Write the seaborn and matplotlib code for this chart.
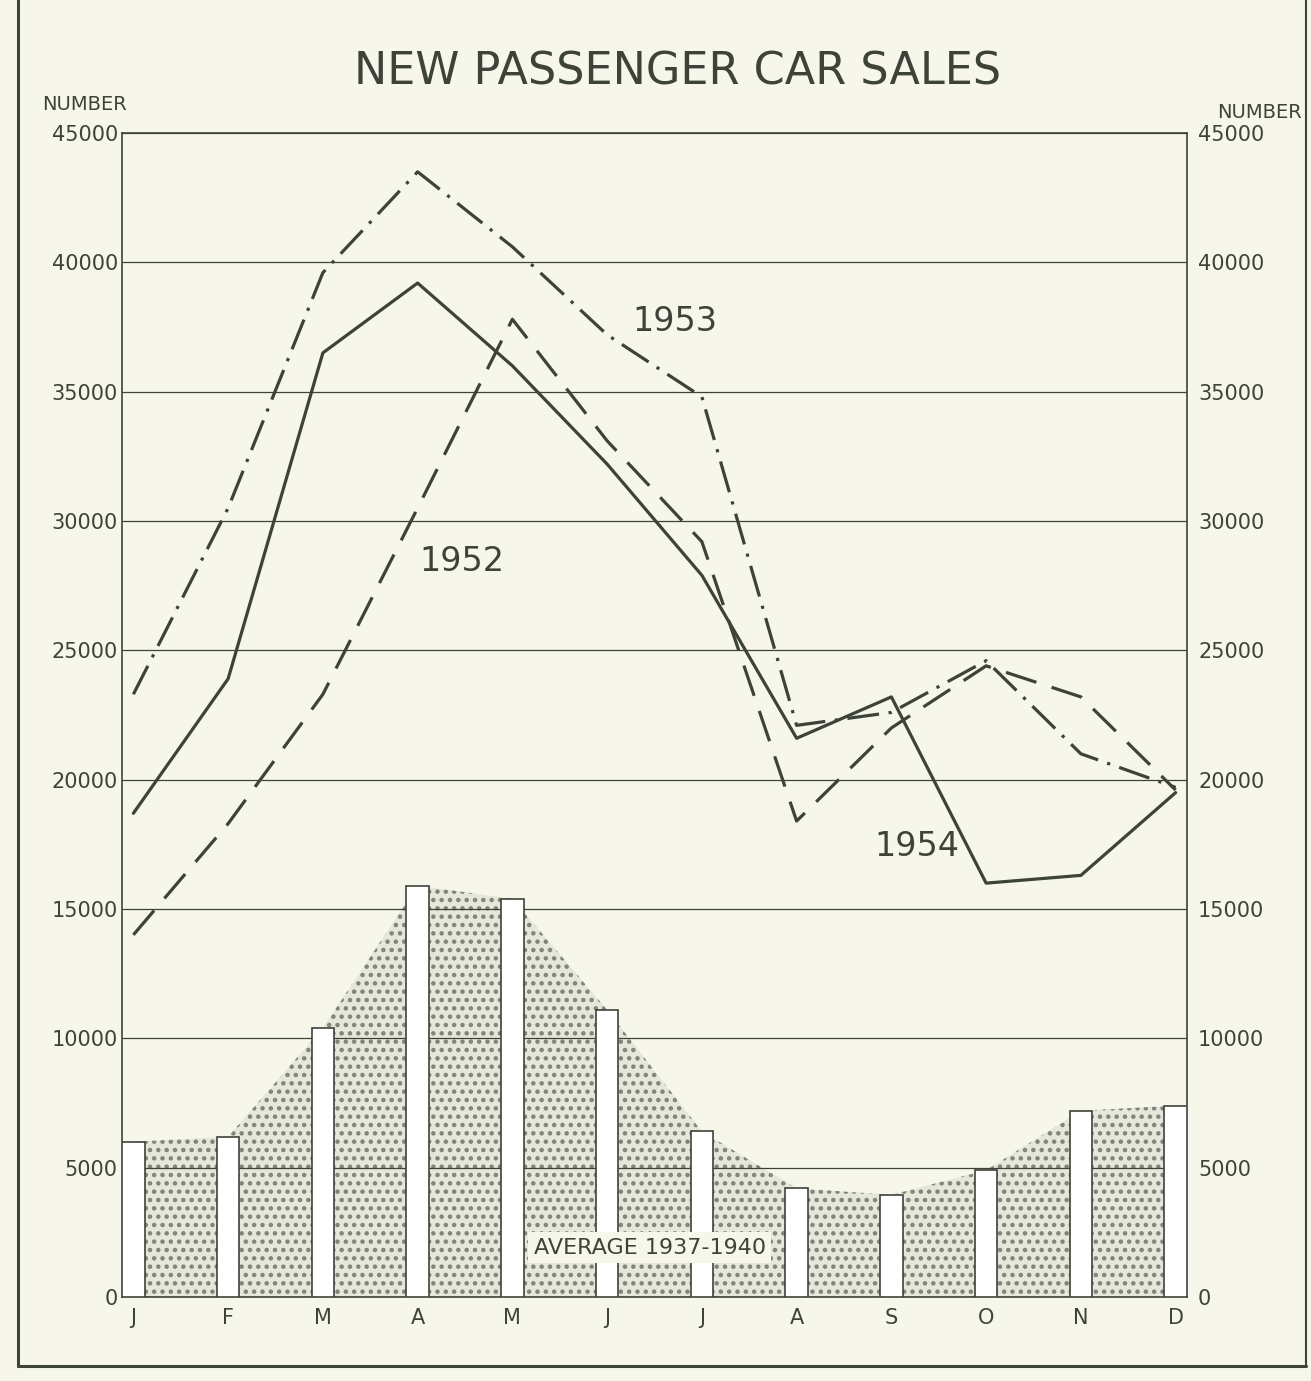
import numpy as np
import matplotlib
matplotlib.use("Agg")
import matplotlib.pyplot as plt
import seaborn as sns
from matplotlib.lines import Line2D

# month labels and positions
months = ["J", "F", "M", "A", "M", "J", "J", "A", "S", "O", "N", "D"]
month_pos = list(range(12))

# new passenger car sales
sales_1952 = [14000, 18300, 23300, 30500, 37800, 33100, 29200, 18400, 22000, 24400, 23200, 19600]
sales_1953 = [23300, 30500, 39600, 43500, 40600, 37200, 34800, 22100, 22600, 24600, 21000, 19700]
sales_1954 = [18700, 23900, 36500, 39200, 36000, 32200, 27900, 21600, 23200, 16000, 16300, 19500]
avg_1937_1940 = [6000, 6200, 10400, 15900, 15400, 11100, 6400, 4200, 3950, 4900, 7200, 7400]

y_ticks = list(range(0, 45001, 5000))

bg = "#f6f7ea"
ink = "#3d4339"

sns.set_theme(style="white")
plt.rcParams["font.family"] = ["DejaVu Sans"]
plt.rcParams["hatch.linewidth"] = 2.0

fig = plt.figure(figsize=(13.11, 13.81), dpi=100)
fig.patch.set_facecolor(bg)
ax = fig.add_axes([122 / 1311, 1 - 1297 / 1381, 1065 / 1311, 1164 / 1381])
ax.set_facecolor(bg)

# dotted area under the 1937-1940 average
ax.fill_between(month_pos, 0, avg_1937_1940, facecolor="#e6e7da", edgecolor="#7f847a",
                hatch="..", linewidth=0, zorder=1)

# white bars for the average
sns.barplot(x=month_pos, y=avg_1937_1940, native_scale=True, width=0.24, color="white",
            saturation=1, edgecolor=ink, linewidth=1.2, ax=ax, zorder=3)

# yearly lines
sns.lineplot(x=month_pos, y=sales_1954, ax=ax, color=ink, lw=2.3, zorder=4)
sns.lineplot(x=month_pos, y=sales_1952, ax=ax, color=ink, lw=2.3, zorder=4,
             linestyle=(0, (10, 5)))
sns.lineplot(x=month_pos, y=sales_1953, ax=ax, color=ink, lw=2.3, zorder=4,
             linestyle=(0, (10, 3, 1, 3)))

ax.set_xlim(-0.12, 11.12)
ax.set_ylim(0, 45000)
ax.set_yticks(y_ticks)
ax.set_yticklabels([str(v) for v in y_ticks])
ax.set_xticks(month_pos)
ax.set_xticklabels(months)
ax.set_xlabel("")
ax.set_ylabel("")

ax.set_axisbelow(False)
ax.grid(axis="y", color=ink, lw=0.9)
ax.grid(axis="x", visible=False)
for side in ["left", "right", "top", "bottom"]:
    ax.spines[side].set_visible(True)
    ax.spines[side].set_color(ink)
    ax.spines[side].set_linewidth(1.2)

ax.tick_params(axis="y", length=0, pad=3, labelsize=15, labelcolor=ink)
ax.tick_params(axis="x", length=0, pad=8, labelsize=15, labelcolor=ink)

# right hand scale
ax2 = ax.twinx()
ax2.set_ylim(0, 45000)
ax2.set_yticks(y_ticks)
ax2.set_yticklabels([str(v) for v in y_ticks])
ax2.tick_params(axis="y", length=0, pad=8, labelsize=15, labelcolor=ink)
ax2.grid(False)
for side in ["left", "right", "top", "bottom"]:
    ax2.spines[side].set_visible(False)

# labels on the chart
ax.text(5.72, 37700, "1953", fontsize=24, color=ink, ha="center", va="center", zorder=5)
ax.text(3.47, 28450, "1952", fontsize=24, color=ink, ha="center", va="center", zorder=5)
ax.text(8.27, 17400, "1954", fontsize=24, color=ink, ha="center", va="center", zorder=5)
ax.text(5.45, 1900, "AVERAGE 1937-1940", fontsize=16, color=ink, ha="center", va="center",
        zorder=6, bbox=dict(facecolor=bg, edgecolor="none", pad=4))

fig.text(678 / 1311, 1 - 72 / 1381, "NEW PASSENGER CAR SALES", fontsize=32, color=ink,
         ha="center", va="center")
fig.text(42 / 1311, 1 - 105 / 1381, "NUMBER", fontsize=14, color=ink, ha="left", va="center")
fig.text(1302 / 1311, 1 - 112 / 1381, "NUMBER", fontsize=14, color=ink, ha="right", va="center")

# outer frame
fig.add_artist(Line2D([18 / 1311, 18 / 1311], [1 - 1366 / 1381, 1.0], color=ink, lw=2.2))
fig.add_artist(Line2D([18 / 1311, 1306 / 1311], [1 - 1366 / 1381, 1 - 1366 / 1381], color=ink, lw=2.2))
fig.add_artist(Line2D([1306 / 1311, 1306 / 1311], [1 - 1366 / 1381, 1.0], color=ink, lw=1.5))

fig.savefig("out.png", dpi=100, facecolor=bg)
